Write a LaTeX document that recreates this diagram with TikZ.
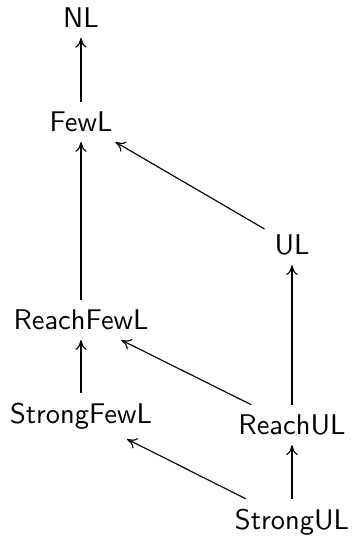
\documentclass[tikz,border=0pt]{standalone}
\usetikzlibrary{arrows.meta}
\begin{document}
\begin{tikzpicture}[x=0.3513pt,y=-0.3513pt,
  cls/.style={font=\sffamily, inner sep=0.333em},
  incl/.style={-{To[length=3.4pt,width=4pt]}, line width=0.4pt}]
\useasboundingbox (0,0) rectangle (353,540);
% complexity classes
\node[cls] (NL)   at (81,18)  {NL};
\node[cls] (FewL) at (81,122) {FewL};
\node[cls] (UL)   at (292,245) {UL};
\node[cls] (RFL)  at (81,320) {ReachFewL};
\node[cls] (SFL)  at (81,416) {StrongFewL};
\node[cls] (RUL)  at (292,425) {ReachUL};
\node[cls] (SUL)  at (292,522) {StrongUL};
% inclusions
\draw[incl] (FewL) -- (NL);
\draw[incl] (RFL) -- (FewL);
\draw[incl] (SFL) -- (RFL);
\draw[incl] (UL) -- (FewL);
\draw[incl] (RUL) -- (UL);
\draw[incl] (SUL) -- (RUL);
\draw[incl] (RUL) -- (RFL);
\draw[incl] (SUL) -- (SFL);
\end{tikzpicture}
\end{document}
